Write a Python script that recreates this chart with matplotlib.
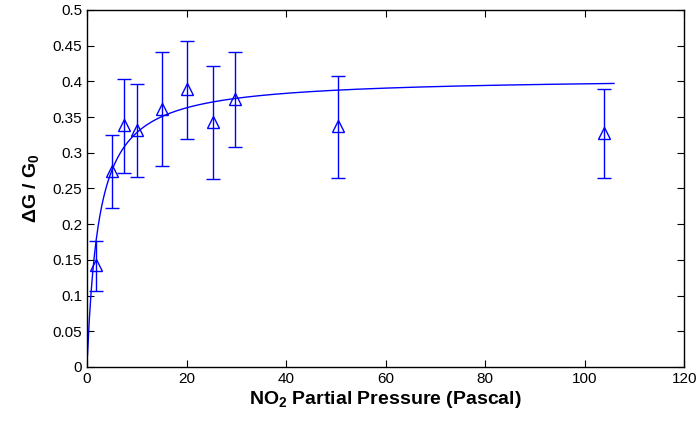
import numpy as np
import matplotlib
matplotlib.use("Agg")
import matplotlib.pyplot as plt
from matplotlib.ticker import FuncFormatter

plt.rcParams['font.family'] = ['Liberation Sans', 'DejaVu Sans']
plt.rcParams['mathtext.default'] = 'regular'

# Data
pressure = [1.8, 5.0, 7.5, 10.0, 15.1, 20.1, 25.3, 29.8, 50.5, 103.9]
delta_g = [0.143, 0.275, 0.339, 0.332, 0.362, 0.389, 0.343, 0.375, 0.337, 0.328]
err_low = [0.036, 0.052, 0.068, 0.066, 0.081, 0.070, 0.080, 0.067, 0.072, 0.063]
err_high = [0.034, 0.050, 0.065, 0.064, 0.079, 0.068, 0.079, 0.066, 0.071, 0.061]

# Langmuir fit parameters
fit_amp = 0.406
fit_k = 2.37
fit_range = (0.1, 105.9)

fig = plt.figure(figsize=(6.96, 4.23), dpi=100)
ax = fig.add_axes([0.125, 0.1324, 0.858, 0.844])

xf = np.linspace(fit_range[0], fit_range[1], 600)
ax.plot(xf, fit_amp * xf / (fit_k + xf), color='#0000ff', lw=1.0)

ax.errorbar(pressure, delta_g, yerr=[err_low, err_high], fmt='^', color='#0000ff',
            ecolor='#0000ff', elinewidth=1.0, capsize=5, capthick=1.0,
            markersize=9, markerfacecolor='none', markeredgewidth=1.0)

ax.set_xlim(0, 120)
ax.set_ylim(0, 0.5)
ax.set_xticks(np.arange(0, 121, 20))
ax.set_yticks(np.arange(0, 0.501, 0.05))
ax.yaxis.set_major_formatter(FuncFormatter(lambda v, p: '%g' % round(v, 2)))
ax.tick_params(direction='in', top=True, right=True, length=5, labelsize=11, width=0.8)
for s in ax.spines.values():
    s.set_linewidth(1.0)

ax.set_xlabel(r'NO$_2$ Partial Pressure (Pascal)', fontsize=14, fontweight='bold', labelpad=2)
ax.set_ylabel(r'$\mathit{\Delta}$G / G$_0$'.replace(r'\mathit{\Delta}', r'\Delta'),
              fontsize=14, fontweight='bold', labelpad=8)

fig.savefig('out.png', dpi=100)
